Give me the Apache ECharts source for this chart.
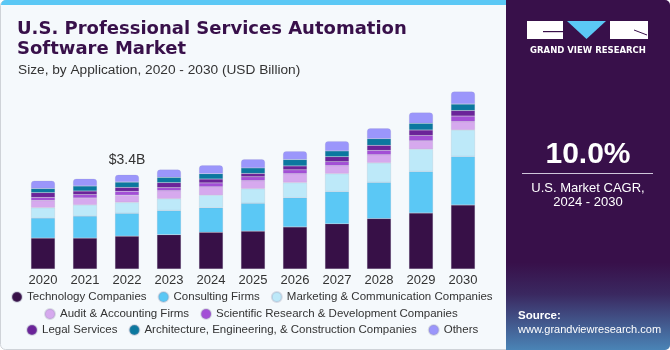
<!DOCTYPE html>
<html>
<head>
<meta charset="utf-8">
<script src="https://cdn.jsdelivr.net/npm/echarts@6/dist/echarts.min.js"></script>
<style>
html, body { margin: 0; padding: 0; background: #fff; }
#chart { width: 670px; height: 350px; }
</style>
</head>
<body>
<div id="chart"></div>
<script>
// years on the x axis
var years = ["2020", "2021", "2022", "2023", "2024", "2025", "2026", "2027", "2028", "2029", "2030"];

// USD Billion
var technology = [1.11, 1.11, 1.18, 1.23, 1.32, 1.36, 1.51, 1.62, 1.81, 2.01, 2.30];
var consulting = [0.72, 0.79, 0.82, 0.87, 0.88, 1.00, 1.05, 1.16, 1.30, 1.49, 1.74];
var marketing = [0.37, 0.40, 0.39, 0.42, 0.45, 0.52, 0.54, 0.64, 0.70, 0.80, 0.95];
var audit = [0.26, 0.25, 0.26, 0.29, 0.30, 0.29, 0.32, 0.29, 0.29, 0.30, 0.30];
var scientific = [0.11, 0.12, 0.14, 0.11, 0.14, 0.14, 0.14, 0.14, 0.16, 0.19, 0.20];
var legal = [0.17, 0.13, 0.14, 0.18, 0.14, 0.12, 0.14, 0.18, 0.18, 0.20, 0.20];
var architecture = [0.15, 0.18, 0.19, 0.19, 0.19, 0.20, 0.23, 0.21, 0.24, 0.24, 0.23];
var others = [0.28, 0.26, 0.26, 0.28, 0.30, 0.31, 0.30, 0.35, 0.37, 0.39, 0.45];

var names = [
    "Technology Companies",
    "Consulting Firms",
    "Marketing & Communication Companies",
    "Audit & Accounting Firms",
    "Scientific Research & Development Companies",
    "Legal Services",
    "Architecture, Engineering, & Construction Companies",
    "Others"
];
var values = [technology, consulting, marketing, audit, scientific, legal, architecture, others];
var colors = ["#371047", "#5bc8f5", "#bde9f9", "#d6a9ee", "#a34fd6", "#6b2399", "#0b789f", "#9b96fb"];

var labelYear = "2022";
var labelText = "$3.4B";

var font = "Liberation Sans, Arial, sans-serif";

var chart = echarts.init(document.getElementById("chart"));

var series = names.map(function (name, i) {
    var last = i === names.length - 1;
    return {
        name: name,
        type: "bar",
        stack: "total",
        barWidth: 24,
        itemStyle: {
            color: colors[i],
            borderColor: "rgba(150,150,175,0.3)",
            borderWidth: 0.5,
            borderRadius: last ? [3, 3, 0, 0] : 0
        },
        data: values[i].map(function (v, j) {
            if (last && years[j] === labelYear) {
                return {
                    value: v,
                    label: {
                        show: true,
                        position: "top",
                        distance: 8,
                        formatter: labelText,
                        color: "#333",
                        fontSize: 14,
                        fontFamily: font
                    }
                };
            }
            return v;
        })
    };
});

function legendRow(items, left, top) {
    return {
        data: items,
        left: left,
        top: top,
        icon: "circle",
        itemWidth: 10,
        itemHeight: 10,
        itemGap: 11,
        textStyle: { color: "#333", fontSize: 11.5, fontFamily: font },
        padding: 0
    };
}

chart.setOption({
    backgroundColor: "#fff",
    animation: false,
    grid: { left: 22, right: 186, top: 74, bottom: 81 },
    xAxis: {
        type: "category",
        data: years,
        axisLine: { show: false },
        axisTick: { show: false },
        axisLabel: { color: "#333", fontSize: 13, fontFamily: font, margin: 5 }
    },
    yAxis: {
        type: "value",
        min: 0,
        max: 7,
        show: false
    },
    legend: [
        legendRow(names.slice(0, 3), 11, 291),
        legendRow(names.slice(3, 5), 44, 308),
        legendRow(names.slice(5, 8), 26, 324)
    ],
    graphic: [
        // card background
        { type: "rect", z: -10, shape: { x: 0.5, y: 0.5, width: 669, height: 349, r: 5 },
          style: { fill: "#f5f9fc", stroke: "#cfd3d8", lineWidth: 1 } },
        { type: "rect", z: -9, shape: { x: 1, y: 0, width: 506, height: 5, r: [5, 0, 0, 0] },
          style: { fill: "#5bc8f5" } },
        // right panel
        { type: "rect", z: -8, shape: { x: 506, y: 0, width: 164, height: 350, r: [0, 5, 5, 0] },
          style: { fill: new echarts.graphic.LinearGradient(0, 0, 0, 1, [
              { offset: 0, color: "#38104a" },
              { offset: 0.75, color: "#38104a" },
              { offset: 0.84, color: "#3a2860" },
              { offset: 1, color: "#4a84b6" }
          ]) } },
        // logo
        { type: "rect", shape: { x: 527, y: 21, width: 36, height: 18 }, style: { fill: "#fff" } },
        { type: "rect", shape: { x: 543, y: 31, width: 20, height: 1.2 }, style: { fill: "#38104a" } },
        { type: "polygon", shape: { points: [[567, 21], [606, 21], [586.5, 39]] }, style: { fill: "#5bc8f5" } },
        { type: "rect", shape: { x: 610, y: 21, width: 38, height: 18 }, style: { fill: "#fff" } },
        { type: "line", shape: { x1: 634, y1: 30, x2: 647, y2: 35 }, style: { stroke: "#38104a", lineWidth: 1 } },
        { type: "text", style: { x: 588, y: 51, text: "GRAND VIEW RESEARCH", fill: "#fff",
            font: "bold 8.5px DejaVu Sans, sans-serif", align: "center", verticalAlign: "middle" } },
        // CAGR
        { type: "text", style: { x: 588, y: 155, text: "10.0%", fill: "#fff",
            font: "bold 30px Liberation Sans, Arial, sans-serif", align: "center", verticalAlign: "middle" } },
        { type: "rect", shape: { x: 522, y: 173, width: 131, height: 1 }, style: { fill: "#cfc6da" } },
        { type: "text", style: { x: 588, y: 188, text: "U.S. Market CAGR,", fill: "#fff",
            font: "13px Liberation Sans, Arial, sans-serif", align: "center", verticalAlign: "middle" } },
        { type: "text", style: { x: 588, y: 202, text: "2024 - 2030", fill: "#fff",
            font: "13px Liberation Sans, Arial, sans-serif", align: "center", verticalAlign: "middle" } },
        // source
        { type: "text", style: { x: 518, y: 316, text: "Source:", fill: "#fff",
            font: "bold 11.5px Liberation Sans, Arial, sans-serif", verticalAlign: "middle" } },
        { type: "text", style: { x: 518, y: 330, text: "www.grandviewresearch.com", fill: "#fff",
            font: "11px Liberation Sans, Arial, sans-serif", verticalAlign: "middle" } },
        // titles
        { type: "text", style: { x: 17, y: 29, text: "U.S. Professional Services Automation", fill: "#38104a",
            font: "bold 18px DejaVu Sans, sans-serif", verticalAlign: "middle" } },
        { type: "text", style: { x: 17, y: 49, text: "Software Market", fill: "#38104a",
            font: "bold 18px DejaVu Sans, sans-serif", verticalAlign: "middle" } },
        { type: "text", style: { x: 18, y: 70, text: "Size, by Application, 2020 - 2030 (USD Billion)", fill: "#333",
            font: "13.7px Liberation Sans, Arial, sans-serif", verticalAlign: "middle" } }
    ],
    series: series
});
</script>
</body>
</html>
